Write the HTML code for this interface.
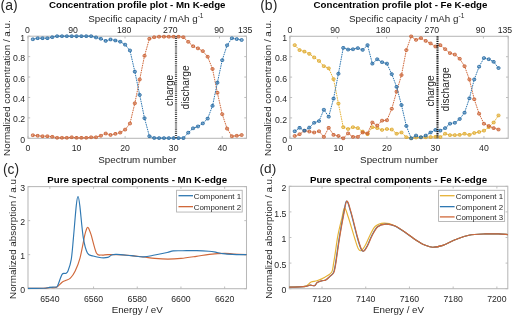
<!DOCTYPE html>
<html><head><meta charset="utf-8"><style>html,body{margin:0;padding:0;background:#fff;overflow:hidden;width:512px;height:319px}svg{display:block}</style></head>
<body>
<svg style="will-change:transform" width="512" height="319" viewBox="0 0 512 319" font-family='"Liberation Sans", sans-serif'>
<rect width="512" height="319" fill="#fff"/>
<text x="0.50" y="9.80" font-size="14" text-anchor="start" font-weight="normal" fill="#262626" >(a)</text>
<text x="260.20" y="9.80" font-size="14" text-anchor="start" font-weight="normal" fill="#262626" >(b)</text>
<text x="3.00" y="173.60" font-size="13.8" text-anchor="start" font-weight="normal" fill="#262626" >(c)</text>
<text x="259.60" y="173.40" font-size="13.6" text-anchor="start" font-weight="normal" fill="#262626" >(d)</text>
<text x="137.25" y="7.90" font-size="9.7" text-anchor="middle" font-weight="bold" fill="#000" >Concentration profile plot - Mn K-edge</text>
<text x="88.20" y="22.10" font-size="9.8" text-anchor="start" font-weight="normal" fill="#262626" >Specific capacity / mAh g<tspan dy="-4.3" font-size="6.6">-1</tspan></text>
<rect x="28.00" y="36.20" width="218.50" height="102.10" fill="none" stroke="#b8b8b8" stroke-width="1.05"/>
<text x="28.00" y="151.20" font-size="8.7" text-anchor="middle" font-weight="normal" fill="#262626" >0</text>
<text x="76.56" y="151.20" font-size="8.7" text-anchor="middle" font-weight="normal" fill="#262626" >10</text>
<text x="125.11" y="151.20" font-size="8.7" text-anchor="middle" font-weight="normal" fill="#262626" >20</text>
<text x="173.67" y="151.20" font-size="8.7" text-anchor="middle" font-weight="normal" fill="#262626" >30</text>
<text x="222.22" y="151.20" font-size="8.7" text-anchor="middle" font-weight="normal" fill="#262626" >40</text>
<text x="25.20" y="142.90" font-size="8.7" text-anchor="end" font-weight="normal" fill="#262626" >0</text>
<text x="25.20" y="122.48" font-size="8.7" text-anchor="end" font-weight="normal" fill="#262626" >0.2</text>
<text x="25.20" y="102.06" font-size="8.7" text-anchor="end" font-weight="normal" fill="#262626" >0.4</text>
<text x="25.20" y="81.64" font-size="8.7" text-anchor="end" font-weight="normal" fill="#262626" >0.6</text>
<text x="25.20" y="61.22" font-size="8.7" text-anchor="end" font-weight="normal" fill="#262626" >0.8</text>
<text x="25.20" y="40.80" font-size="8.7" text-anchor="end" font-weight="normal" fill="#262626" >1</text>
<path d="M28.00 138.30v-2.2M76.56 138.30v-2.2M125.11 138.30v-2.2M173.67 138.30v-2.2M222.22 138.30v-2.2M28.00 138.30h2.2M246.50 138.30h-2.2M28.00 117.88h2.2M246.50 117.88h-2.2M28.00 97.46h2.2M246.50 97.46h-2.2M28.00 77.04h2.2M246.50 77.04h-2.2M28.00 56.62h2.2M246.50 56.62h-2.2M28.00 36.20h2.2M246.50 36.20h-2.2M28.00 36.20v2.2M76.50 36.20v2.2M125.00 36.20v2.2M171.00 36.20v2.2M219.50 36.20v2.2M246.50 36.20v2.2" stroke="#b8b8b8" stroke-width="0.9" fill="none"/>
<text x="27.50" y="33.30" font-size="8.7" text-anchor="middle" font-weight="normal" fill="#262626" >0</text>
<text x="73.10" y="33.30" font-size="8.7" text-anchor="middle" font-weight="normal" fill="#262626" >90</text>
<text x="124.20" y="33.30" font-size="8.7" text-anchor="middle" font-weight="normal" fill="#262626" >180</text>
<text x="170.30" y="33.30" font-size="8.7" text-anchor="middle" font-weight="normal" fill="#262626" >270</text>
<text x="219.00" y="33.30" font-size="8.7" text-anchor="middle" font-weight="normal" fill="#262626" >90</text>
<text x="245.20" y="33.30" font-size="8.7" text-anchor="middle" font-weight="normal" fill="#262626" >135</text>
<text x="137.25" y="163.20" font-size="9.8" text-anchor="middle" font-weight="normal" fill="#262626" >Spectrum number</text>
<text transform="translate(10.2 88.1) rotate(-90)" font-size="9.8" text-anchor="middle" fill="#262626">Normalized concentration / a.u.</text>
<path d="M32.86 135.24 L37.71 135.75 L42.57 136.26 L47.42 136.26 L52.28 136.77 L57.13 137.79 L61.99 137.79 L66.84 137.79 L71.70 137.28 L76.56 137.79 L81.41 137.79 L86.27 137.79 L91.12 137.28 L95.98 137.28 L100.83 135.75 L105.69 133.50 L110.54 134.93 L115.40 133.81 L120.26 132.58 L125.11 129.62 L129.97 123.50 L134.82 103.28 L139.68 79.49 L144.53 55.80 L149.39 38.75 L154.24 37.22 L159.10 36.71 L163.96 36.71 L168.81 36.71 L173.67 36.71 L178.52 36.71 L183.38 37.22 L188.23 41.82 L193.09 46.21 L197.94 48.35 L202.80 51.11 L207.66 56.72 L212.51 68.97 L217.37 92.76 L222.22 114.20 L227.08 128.60 L231.93 136.26 L236.79 135.75 L241.64 135.03" stroke="#d0683a" stroke-width="1.0" fill="none" stroke-dasharray="1.6 0.8"/>
<rect x="31.36" y="133.94" width="3.0" height="2.6" rx="0.9" fill="#d0683a" fill-opacity="0.5" stroke="#c85f30" stroke-width="0.9"/>
<rect x="36.21" y="134.45" width="3.0" height="2.6" rx="0.9" fill="#d0683a" fill-opacity="0.5" stroke="#c85f30" stroke-width="0.9"/>
<rect x="41.07" y="134.96" width="3.0" height="2.6" rx="0.9" fill="#d0683a" fill-opacity="0.5" stroke="#c85f30" stroke-width="0.9"/>
<rect x="45.92" y="134.96" width="3.0" height="2.6" rx="0.9" fill="#d0683a" fill-opacity="0.5" stroke="#c85f30" stroke-width="0.9"/>
<rect x="50.78" y="135.47" width="3.0" height="2.6" rx="0.9" fill="#d0683a" fill-opacity="0.5" stroke="#c85f30" stroke-width="0.9"/>
<rect x="55.63" y="136.49" width="3.0" height="2.6" rx="0.9" fill="#d0683a" fill-opacity="0.5" stroke="#c85f30" stroke-width="0.9"/>
<rect x="60.49" y="136.49" width="3.0" height="2.6" rx="0.9" fill="#d0683a" fill-opacity="0.5" stroke="#c85f30" stroke-width="0.9"/>
<rect x="65.34" y="136.49" width="3.0" height="2.6" rx="0.9" fill="#d0683a" fill-opacity="0.5" stroke="#c85f30" stroke-width="0.9"/>
<rect x="70.20" y="135.98" width="3.0" height="2.6" rx="0.9" fill="#d0683a" fill-opacity="0.5" stroke="#c85f30" stroke-width="0.9"/>
<rect x="75.06" y="136.49" width="3.0" height="2.6" rx="0.9" fill="#d0683a" fill-opacity="0.5" stroke="#c85f30" stroke-width="0.9"/>
<rect x="79.91" y="136.49" width="3.0" height="2.6" rx="0.9" fill="#d0683a" fill-opacity="0.5" stroke="#c85f30" stroke-width="0.9"/>
<rect x="84.77" y="136.49" width="3.0" height="2.6" rx="0.9" fill="#d0683a" fill-opacity="0.5" stroke="#c85f30" stroke-width="0.9"/>
<rect x="89.62" y="135.98" width="3.0" height="2.6" rx="0.9" fill="#d0683a" fill-opacity="0.5" stroke="#c85f30" stroke-width="0.9"/>
<rect x="94.48" y="135.98" width="3.0" height="2.6" rx="0.9" fill="#d0683a" fill-opacity="0.5" stroke="#c85f30" stroke-width="0.9"/>
<rect x="99.33" y="134.45" width="3.0" height="2.6" rx="0.9" fill="#d0683a" fill-opacity="0.5" stroke="#c85f30" stroke-width="0.9"/>
<rect x="104.19" y="132.20" width="3.0" height="2.6" rx="0.9" fill="#d0683a" fill-opacity="0.5" stroke="#c85f30" stroke-width="0.9"/>
<rect x="109.04" y="133.63" width="3.0" height="2.6" rx="0.9" fill="#d0683a" fill-opacity="0.5" stroke="#c85f30" stroke-width="0.9"/>
<rect x="113.90" y="132.51" width="3.0" height="2.6" rx="0.9" fill="#d0683a" fill-opacity="0.5" stroke="#c85f30" stroke-width="0.9"/>
<rect x="118.76" y="131.28" width="3.0" height="2.6" rx="0.9" fill="#d0683a" fill-opacity="0.5" stroke="#c85f30" stroke-width="0.9"/>
<rect x="123.61" y="128.32" width="3.0" height="2.6" rx="0.9" fill="#d0683a" fill-opacity="0.5" stroke="#c85f30" stroke-width="0.9"/>
<rect x="128.47" y="122.20" width="3.0" height="2.6" rx="0.9" fill="#d0683a" fill-opacity="0.5" stroke="#c85f30" stroke-width="0.9"/>
<rect x="133.32" y="101.98" width="3.0" height="2.6" rx="0.9" fill="#d0683a" fill-opacity="0.5" stroke="#c85f30" stroke-width="0.9"/>
<rect x="138.18" y="78.19" width="3.0" height="2.6" rx="0.9" fill="#d0683a" fill-opacity="0.5" stroke="#c85f30" stroke-width="0.9"/>
<rect x="143.03" y="54.50" width="3.0" height="2.6" rx="0.9" fill="#d0683a" fill-opacity="0.5" stroke="#c85f30" stroke-width="0.9"/>
<rect x="147.89" y="37.45" width="3.0" height="2.6" rx="0.9" fill="#d0683a" fill-opacity="0.5" stroke="#c85f30" stroke-width="0.9"/>
<rect x="152.74" y="35.92" width="3.0" height="2.6" rx="0.9" fill="#d0683a" fill-opacity="0.5" stroke="#c85f30" stroke-width="0.9"/>
<rect x="157.60" y="35.41" width="3.0" height="2.6" rx="0.9" fill="#d0683a" fill-opacity="0.5" stroke="#c85f30" stroke-width="0.9"/>
<rect x="162.46" y="35.41" width="3.0" height="2.6" rx="0.9" fill="#d0683a" fill-opacity="0.5" stroke="#c85f30" stroke-width="0.9"/>
<rect x="167.31" y="35.41" width="3.0" height="2.6" rx="0.9" fill="#d0683a" fill-opacity="0.5" stroke="#c85f30" stroke-width="0.9"/>
<rect x="172.17" y="35.41" width="3.0" height="2.6" rx="0.9" fill="#d0683a" fill-opacity="0.5" stroke="#c85f30" stroke-width="0.9"/>
<rect x="177.02" y="35.41" width="3.0" height="2.6" rx="0.9" fill="#d0683a" fill-opacity="0.5" stroke="#c85f30" stroke-width="0.9"/>
<rect x="181.88" y="35.92" width="3.0" height="2.6" rx="0.9" fill="#d0683a" fill-opacity="0.5" stroke="#c85f30" stroke-width="0.9"/>
<rect x="186.73" y="40.52" width="3.0" height="2.6" rx="0.9" fill="#d0683a" fill-opacity="0.5" stroke="#c85f30" stroke-width="0.9"/>
<rect x="191.59" y="44.91" width="3.0" height="2.6" rx="0.9" fill="#d0683a" fill-opacity="0.5" stroke="#c85f30" stroke-width="0.9"/>
<rect x="196.44" y="47.05" width="3.0" height="2.6" rx="0.9" fill="#d0683a" fill-opacity="0.5" stroke="#c85f30" stroke-width="0.9"/>
<rect x="201.30" y="49.81" width="3.0" height="2.6" rx="0.9" fill="#d0683a" fill-opacity="0.5" stroke="#c85f30" stroke-width="0.9"/>
<rect x="206.16" y="55.42" width="3.0" height="2.6" rx="0.9" fill="#d0683a" fill-opacity="0.5" stroke="#c85f30" stroke-width="0.9"/>
<rect x="211.01" y="67.67" width="3.0" height="2.6" rx="0.9" fill="#d0683a" fill-opacity="0.5" stroke="#c85f30" stroke-width="0.9"/>
<rect x="215.87" y="91.46" width="3.0" height="2.6" rx="0.9" fill="#d0683a" fill-opacity="0.5" stroke="#c85f30" stroke-width="0.9"/>
<rect x="220.72" y="112.90" width="3.0" height="2.6" rx="0.9" fill="#d0683a" fill-opacity="0.5" stroke="#c85f30" stroke-width="0.9"/>
<rect x="225.58" y="127.30" width="3.0" height="2.6" rx="0.9" fill="#d0683a" fill-opacity="0.5" stroke="#c85f30" stroke-width="0.9"/>
<rect x="230.43" y="134.96" width="3.0" height="2.6" rx="0.9" fill="#d0683a" fill-opacity="0.5" stroke="#c85f30" stroke-width="0.9"/>
<rect x="235.29" y="134.45" width="3.0" height="2.6" rx="0.9" fill="#d0683a" fill-opacity="0.5" stroke="#c85f30" stroke-width="0.9"/>
<rect x="240.14" y="133.73" width="3.0" height="2.6" rx="0.9" fill="#d0683a" fill-opacity="0.5" stroke="#c85f30" stroke-width="0.9"/>
<path d="M32.86 39.26 L37.71 38.24 L42.57 38.24 L47.42 38.24 L52.28 37.22 L57.13 36.20 L61.99 36.20 L66.84 36.20 L71.70 36.20 L76.56 36.20 L81.41 36.20 L86.27 36.20 L91.12 36.20 L95.98 37.43 L100.83 38.75 L105.69 40.90 L110.54 39.47 L115.40 40.49 L120.26 41.71 L125.11 44.67 L129.97 50.49 L134.82 71.63 L139.68 94.91 L144.53 118.19 L149.39 136.26 L154.24 137.99 L159.10 138.10 L163.96 138.10 L168.81 138.10 L173.67 138.10 L178.52 138.10 L183.38 138.10 L188.23 132.68 L193.09 128.29 L197.94 126.46 L202.80 123.39 L207.66 118.59 L212.51 105.83 L217.37 82.66 L222.22 60.19 L227.08 45.29 L231.93 38.24 L236.79 39.06 L241.64 39.98" stroke="#2f78b2" stroke-width="1.0" fill="none" stroke-dasharray="1.6 0.8"/>
<rect x="31.36" y="37.96" width="3.0" height="2.6" rx="0.9" fill="#2f78b2" fill-opacity="0.5" stroke="#2468a0" stroke-width="0.9"/>
<rect x="36.21" y="36.94" width="3.0" height="2.6" rx="0.9" fill="#2f78b2" fill-opacity="0.5" stroke="#2468a0" stroke-width="0.9"/>
<rect x="41.07" y="36.94" width="3.0" height="2.6" rx="0.9" fill="#2f78b2" fill-opacity="0.5" stroke="#2468a0" stroke-width="0.9"/>
<rect x="45.92" y="36.94" width="3.0" height="2.6" rx="0.9" fill="#2f78b2" fill-opacity="0.5" stroke="#2468a0" stroke-width="0.9"/>
<rect x="50.78" y="35.92" width="3.0" height="2.6" rx="0.9" fill="#2f78b2" fill-opacity="0.5" stroke="#2468a0" stroke-width="0.9"/>
<rect x="55.63" y="34.90" width="3.0" height="2.6" rx="0.9" fill="#2f78b2" fill-opacity="0.5" stroke="#2468a0" stroke-width="0.9"/>
<rect x="60.49" y="34.90" width="3.0" height="2.6" rx="0.9" fill="#2f78b2" fill-opacity="0.5" stroke="#2468a0" stroke-width="0.9"/>
<rect x="65.34" y="34.90" width="3.0" height="2.6" rx="0.9" fill="#2f78b2" fill-opacity="0.5" stroke="#2468a0" stroke-width="0.9"/>
<rect x="70.20" y="34.90" width="3.0" height="2.6" rx="0.9" fill="#2f78b2" fill-opacity="0.5" stroke="#2468a0" stroke-width="0.9"/>
<rect x="75.06" y="34.90" width="3.0" height="2.6" rx="0.9" fill="#2f78b2" fill-opacity="0.5" stroke="#2468a0" stroke-width="0.9"/>
<rect x="79.91" y="34.90" width="3.0" height="2.6" rx="0.9" fill="#2f78b2" fill-opacity="0.5" stroke="#2468a0" stroke-width="0.9"/>
<rect x="84.77" y="34.90" width="3.0" height="2.6" rx="0.9" fill="#2f78b2" fill-opacity="0.5" stroke="#2468a0" stroke-width="0.9"/>
<rect x="89.62" y="34.90" width="3.0" height="2.6" rx="0.9" fill="#2f78b2" fill-opacity="0.5" stroke="#2468a0" stroke-width="0.9"/>
<rect x="94.48" y="36.13" width="3.0" height="2.6" rx="0.9" fill="#2f78b2" fill-opacity="0.5" stroke="#2468a0" stroke-width="0.9"/>
<rect x="99.33" y="37.45" width="3.0" height="2.6" rx="0.9" fill="#2f78b2" fill-opacity="0.5" stroke="#2468a0" stroke-width="0.9"/>
<rect x="104.19" y="39.60" width="3.0" height="2.6" rx="0.9" fill="#2f78b2" fill-opacity="0.5" stroke="#2468a0" stroke-width="0.9"/>
<rect x="109.04" y="38.17" width="3.0" height="2.6" rx="0.9" fill="#2f78b2" fill-opacity="0.5" stroke="#2468a0" stroke-width="0.9"/>
<rect x="113.90" y="39.19" width="3.0" height="2.6" rx="0.9" fill="#2f78b2" fill-opacity="0.5" stroke="#2468a0" stroke-width="0.9"/>
<rect x="118.76" y="40.41" width="3.0" height="2.6" rx="0.9" fill="#2f78b2" fill-opacity="0.5" stroke="#2468a0" stroke-width="0.9"/>
<rect x="123.61" y="43.37" width="3.0" height="2.6" rx="0.9" fill="#2f78b2" fill-opacity="0.5" stroke="#2468a0" stroke-width="0.9"/>
<rect x="128.47" y="49.19" width="3.0" height="2.6" rx="0.9" fill="#2f78b2" fill-opacity="0.5" stroke="#2468a0" stroke-width="0.9"/>
<rect x="133.32" y="70.33" width="3.0" height="2.6" rx="0.9" fill="#2f78b2" fill-opacity="0.5" stroke="#2468a0" stroke-width="0.9"/>
<rect x="138.18" y="93.61" width="3.0" height="2.6" rx="0.9" fill="#2f78b2" fill-opacity="0.5" stroke="#2468a0" stroke-width="0.9"/>
<rect x="143.03" y="116.89" width="3.0" height="2.6" rx="0.9" fill="#2f78b2" fill-opacity="0.5" stroke="#2468a0" stroke-width="0.9"/>
<rect x="147.89" y="134.96" width="3.0" height="2.6" rx="0.9" fill="#2f78b2" fill-opacity="0.5" stroke="#2468a0" stroke-width="0.9"/>
<rect x="152.74" y="136.69" width="3.0" height="2.6" rx="0.9" fill="#2f78b2" fill-opacity="0.5" stroke="#2468a0" stroke-width="0.9"/>
<rect x="157.60" y="136.80" width="3.0" height="2.6" rx="0.9" fill="#2f78b2" fill-opacity="0.5" stroke="#2468a0" stroke-width="0.9"/>
<rect x="162.46" y="136.80" width="3.0" height="2.6" rx="0.9" fill="#2f78b2" fill-opacity="0.5" stroke="#2468a0" stroke-width="0.9"/>
<rect x="167.31" y="136.80" width="3.0" height="2.6" rx="0.9" fill="#2f78b2" fill-opacity="0.5" stroke="#2468a0" stroke-width="0.9"/>
<rect x="172.17" y="136.80" width="3.0" height="2.6" rx="0.9" fill="#2f78b2" fill-opacity="0.5" stroke="#2468a0" stroke-width="0.9"/>
<rect x="177.02" y="136.80" width="3.0" height="2.6" rx="0.9" fill="#2f78b2" fill-opacity="0.5" stroke="#2468a0" stroke-width="0.9"/>
<rect x="181.88" y="136.80" width="3.0" height="2.6" rx="0.9" fill="#2f78b2" fill-opacity="0.5" stroke="#2468a0" stroke-width="0.9"/>
<rect x="186.73" y="131.38" width="3.0" height="2.6" rx="0.9" fill="#2f78b2" fill-opacity="0.5" stroke="#2468a0" stroke-width="0.9"/>
<rect x="191.59" y="126.99" width="3.0" height="2.6" rx="0.9" fill="#2f78b2" fill-opacity="0.5" stroke="#2468a0" stroke-width="0.9"/>
<rect x="196.44" y="125.16" width="3.0" height="2.6" rx="0.9" fill="#2f78b2" fill-opacity="0.5" stroke="#2468a0" stroke-width="0.9"/>
<rect x="201.30" y="122.09" width="3.0" height="2.6" rx="0.9" fill="#2f78b2" fill-opacity="0.5" stroke="#2468a0" stroke-width="0.9"/>
<rect x="206.16" y="117.29" width="3.0" height="2.6" rx="0.9" fill="#2f78b2" fill-opacity="0.5" stroke="#2468a0" stroke-width="0.9"/>
<rect x="211.01" y="104.53" width="3.0" height="2.6" rx="0.9" fill="#2f78b2" fill-opacity="0.5" stroke="#2468a0" stroke-width="0.9"/>
<rect x="215.87" y="81.36" width="3.0" height="2.6" rx="0.9" fill="#2f78b2" fill-opacity="0.5" stroke="#2468a0" stroke-width="0.9"/>
<rect x="220.72" y="58.89" width="3.0" height="2.6" rx="0.9" fill="#2f78b2" fill-opacity="0.5" stroke="#2468a0" stroke-width="0.9"/>
<rect x="225.58" y="43.99" width="3.0" height="2.6" rx="0.9" fill="#2f78b2" fill-opacity="0.5" stroke="#2468a0" stroke-width="0.9"/>
<rect x="230.43" y="36.94" width="3.0" height="2.6" rx="0.9" fill="#2f78b2" fill-opacity="0.5" stroke="#2468a0" stroke-width="0.9"/>
<rect x="235.29" y="37.76" width="3.0" height="2.6" rx="0.9" fill="#2f78b2" fill-opacity="0.5" stroke="#2468a0" stroke-width="0.9"/>
<rect x="240.14" y="38.68" width="3.0" height="2.6" rx="0.9" fill="#2f78b2" fill-opacity="0.5" stroke="#2468a0" stroke-width="0.9"/>
<path d="M176.00 36.20V138.30" stroke="#4a4a4a" stroke-width="2.2" stroke-dasharray="1 0.9"/>
<text transform="translate(173.4 90.3) rotate(-90)" font-size="10.2" text-anchor="middle" fill="#262626">charge</text>
<text transform="translate(188.9 87.4) rotate(-90)" font-size="10.2" text-anchor="middle" fill="#262626">discharge</text>
<text x="400.50" y="7.90" font-size="9.7" text-anchor="middle" font-weight="bold" fill="#000" >Concentration profile plot - Fe K-edge</text>
<text x="349.00" y="22.10" font-size="9.8" text-anchor="start" font-weight="normal" fill="#262626" >Specific capacity / mAh g<tspan dy="-4.3" font-size="6.6">-1</tspan></text>
<rect x="289.90" y="36.30" width="218.30" height="102.00" fill="none" stroke="#b8b8b8" stroke-width="1.05"/>
<text x="289.90" y="151.20" font-size="8.7" text-anchor="middle" font-weight="normal" fill="#262626" >0</text>
<text x="338.41" y="151.20" font-size="8.7" text-anchor="middle" font-weight="normal" fill="#262626" >10</text>
<text x="386.92" y="151.20" font-size="8.7" text-anchor="middle" font-weight="normal" fill="#262626" >20</text>
<text x="435.43" y="151.20" font-size="8.7" text-anchor="middle" font-weight="normal" fill="#262626" >30</text>
<text x="483.94" y="151.20" font-size="8.7" text-anchor="middle" font-weight="normal" fill="#262626" >40</text>
<text x="287.10" y="142.90" font-size="8.7" text-anchor="end" font-weight="normal" fill="#262626" >0</text>
<text x="287.10" y="122.50" font-size="8.7" text-anchor="end" font-weight="normal" fill="#262626" >0.2</text>
<text x="287.10" y="102.10" font-size="8.7" text-anchor="end" font-weight="normal" fill="#262626" >0.4</text>
<text x="287.10" y="81.70" font-size="8.7" text-anchor="end" font-weight="normal" fill="#262626" >0.6</text>
<text x="287.10" y="61.30" font-size="8.7" text-anchor="end" font-weight="normal" fill="#262626" >0.8</text>
<text x="287.10" y="40.90" font-size="8.7" text-anchor="end" font-weight="normal" fill="#262626" >1</text>
<path d="M289.90 138.30v-2.2M338.41 138.30v-2.2M386.92 138.30v-2.2M435.43 138.30v-2.2M483.94 138.30v-2.2M289.90 138.30h2.2M508.20 138.30h-2.2M289.90 117.90h2.2M508.20 117.90h-2.2M289.90 97.50h2.2M508.20 97.50h-2.2M289.90 77.10h2.2M508.20 77.10h-2.2M289.90 56.70h2.2M508.20 56.70h-2.2M289.90 36.30h2.2M508.20 36.30h-2.2M289.90 36.30v2.2M337.40 36.30v2.2M386.60 36.30v2.2M437.90 36.30v2.2M483.40 36.30v2.2M508.20 36.30v2.2" stroke="#b8b8b8" stroke-width="0.9" fill="none"/>
<text x="289.80" y="33.30" font-size="8.7" text-anchor="middle" font-weight="normal" fill="#262626" >0</text>
<text x="335.10" y="33.30" font-size="8.7" text-anchor="middle" font-weight="normal" fill="#262626" >90</text>
<text x="383.10" y="33.30" font-size="8.7" text-anchor="middle" font-weight="normal" fill="#262626" >180</text>
<text x="431.80" y="33.30" font-size="8.7" text-anchor="middle" font-weight="normal" fill="#262626" >270</text>
<text x="480.60" y="33.30" font-size="8.7" text-anchor="middle" font-weight="normal" fill="#262626" >90</text>
<text x="504.90" y="33.30" font-size="8.7" text-anchor="middle" font-weight="normal" fill="#262626" >135</text>
<text x="399.05" y="163.20" font-size="9.8" text-anchor="middle" font-weight="normal" fill="#262626" >Spectrum number</text>
<text transform="translate(270.6 88.1) rotate(-90)" font-size="9.8" text-anchor="middle" fill="#262626">Normalized concentration / a.u.</text>
<path d="M294.75 45.17 L299.60 50.07 L304.45 51.60 L309.30 53.84 L314.16 57.41 L319.01 60.98 L323.86 66.19 L328.71 68.33 L333.56 79.14 L338.41 103.52 L343.26 127.18 L348.11 129.02 L352.96 127.18 L357.82 128.10 L362.67 131.57 L367.52 134.22 L372.37 127.18 L377.22 128.10 L382.07 129.94 L386.92 129.02 L391.77 129.53 L396.62 133.71 L401.48 132.49 L406.33 137.18 L411.18 138.30 L416.03 137.48 L420.88 137.48 L425.73 137.28 L430.58 137.08 L435.43 136.87 L440.28 137.08 L445.14 133.71 L449.99 135.14 L454.84 135.14 L459.69 134.83 L464.54 133.71 L469.39 134.83 L474.24 133.00 L479.09 131.98 L483.94 130.65 L488.80 127.18 L493.65 122.49 L498.50 115.45" stroke="#e6b235" stroke-width="1.0" fill="none" stroke-dasharray="1.6 0.8"/>
<rect x="293.25" y="43.87" width="3.0" height="2.6" rx="0.9" fill="#e6b235" fill-opacity="0.5" stroke="#dca72a" stroke-width="0.9"/>
<rect x="298.10" y="48.77" width="3.0" height="2.6" rx="0.9" fill="#e6b235" fill-opacity="0.5" stroke="#dca72a" stroke-width="0.9"/>
<rect x="302.95" y="50.30" width="3.0" height="2.6" rx="0.9" fill="#e6b235" fill-opacity="0.5" stroke="#dca72a" stroke-width="0.9"/>
<rect x="307.80" y="52.54" width="3.0" height="2.6" rx="0.9" fill="#e6b235" fill-opacity="0.5" stroke="#dca72a" stroke-width="0.9"/>
<rect x="312.66" y="56.11" width="3.0" height="2.6" rx="0.9" fill="#e6b235" fill-opacity="0.5" stroke="#dca72a" stroke-width="0.9"/>
<rect x="317.51" y="59.68" width="3.0" height="2.6" rx="0.9" fill="#e6b235" fill-opacity="0.5" stroke="#dca72a" stroke-width="0.9"/>
<rect x="322.36" y="64.89" width="3.0" height="2.6" rx="0.9" fill="#e6b235" fill-opacity="0.5" stroke="#dca72a" stroke-width="0.9"/>
<rect x="327.21" y="67.03" width="3.0" height="2.6" rx="0.9" fill="#e6b235" fill-opacity="0.5" stroke="#dca72a" stroke-width="0.9"/>
<rect x="332.06" y="77.84" width="3.0" height="2.6" rx="0.9" fill="#e6b235" fill-opacity="0.5" stroke="#dca72a" stroke-width="0.9"/>
<rect x="336.91" y="102.22" width="3.0" height="2.6" rx="0.9" fill="#e6b235" fill-opacity="0.5" stroke="#dca72a" stroke-width="0.9"/>
<rect x="341.76" y="125.88" width="3.0" height="2.6" rx="0.9" fill="#e6b235" fill-opacity="0.5" stroke="#dca72a" stroke-width="0.9"/>
<rect x="346.61" y="127.72" width="3.0" height="2.6" rx="0.9" fill="#e6b235" fill-opacity="0.5" stroke="#dca72a" stroke-width="0.9"/>
<rect x="351.46" y="125.88" width="3.0" height="2.6" rx="0.9" fill="#e6b235" fill-opacity="0.5" stroke="#dca72a" stroke-width="0.9"/>
<rect x="356.32" y="126.80" width="3.0" height="2.6" rx="0.9" fill="#e6b235" fill-opacity="0.5" stroke="#dca72a" stroke-width="0.9"/>
<rect x="361.17" y="130.27" width="3.0" height="2.6" rx="0.9" fill="#e6b235" fill-opacity="0.5" stroke="#dca72a" stroke-width="0.9"/>
<rect x="366.02" y="132.92" width="3.0" height="2.6" rx="0.9" fill="#e6b235" fill-opacity="0.5" stroke="#dca72a" stroke-width="0.9"/>
<rect x="370.87" y="125.88" width="3.0" height="2.6" rx="0.9" fill="#e6b235" fill-opacity="0.5" stroke="#dca72a" stroke-width="0.9"/>
<rect x="375.72" y="126.80" width="3.0" height="2.6" rx="0.9" fill="#e6b235" fill-opacity="0.5" stroke="#dca72a" stroke-width="0.9"/>
<rect x="380.57" y="128.64" width="3.0" height="2.6" rx="0.9" fill="#e6b235" fill-opacity="0.5" stroke="#dca72a" stroke-width="0.9"/>
<rect x="385.42" y="127.72" width="3.0" height="2.6" rx="0.9" fill="#e6b235" fill-opacity="0.5" stroke="#dca72a" stroke-width="0.9"/>
<rect x="390.27" y="128.23" width="3.0" height="2.6" rx="0.9" fill="#e6b235" fill-opacity="0.5" stroke="#dca72a" stroke-width="0.9"/>
<rect x="395.12" y="132.41" width="3.0" height="2.6" rx="0.9" fill="#e6b235" fill-opacity="0.5" stroke="#dca72a" stroke-width="0.9"/>
<rect x="399.98" y="131.19" width="3.0" height="2.6" rx="0.9" fill="#e6b235" fill-opacity="0.5" stroke="#dca72a" stroke-width="0.9"/>
<rect x="404.83" y="135.88" width="3.0" height="2.6" rx="0.9" fill="#e6b235" fill-opacity="0.5" stroke="#dca72a" stroke-width="0.9"/>
<rect x="409.68" y="137.00" width="3.0" height="2.6" rx="0.9" fill="#e6b235" fill-opacity="0.5" stroke="#dca72a" stroke-width="0.9"/>
<rect x="414.53" y="136.18" width="3.0" height="2.6" rx="0.9" fill="#e6b235" fill-opacity="0.5" stroke="#dca72a" stroke-width="0.9"/>
<rect x="419.38" y="136.18" width="3.0" height="2.6" rx="0.9" fill="#e6b235" fill-opacity="0.5" stroke="#dca72a" stroke-width="0.9"/>
<rect x="424.23" y="135.98" width="3.0" height="2.6" rx="0.9" fill="#e6b235" fill-opacity="0.5" stroke="#dca72a" stroke-width="0.9"/>
<rect x="429.08" y="135.78" width="3.0" height="2.6" rx="0.9" fill="#e6b235" fill-opacity="0.5" stroke="#dca72a" stroke-width="0.9"/>
<rect x="433.93" y="135.57" width="3.0" height="2.6" rx="0.9" fill="#e6b235" fill-opacity="0.5" stroke="#dca72a" stroke-width="0.9"/>
<rect x="438.78" y="135.78" width="3.0" height="2.6" rx="0.9" fill="#e6b235" fill-opacity="0.5" stroke="#dca72a" stroke-width="0.9"/>
<rect x="443.64" y="132.41" width="3.0" height="2.6" rx="0.9" fill="#e6b235" fill-opacity="0.5" stroke="#dca72a" stroke-width="0.9"/>
<rect x="448.49" y="133.84" width="3.0" height="2.6" rx="0.9" fill="#e6b235" fill-opacity="0.5" stroke="#dca72a" stroke-width="0.9"/>
<rect x="453.34" y="133.84" width="3.0" height="2.6" rx="0.9" fill="#e6b235" fill-opacity="0.5" stroke="#dca72a" stroke-width="0.9"/>
<rect x="458.19" y="133.53" width="3.0" height="2.6" rx="0.9" fill="#e6b235" fill-opacity="0.5" stroke="#dca72a" stroke-width="0.9"/>
<rect x="463.04" y="132.41" width="3.0" height="2.6" rx="0.9" fill="#e6b235" fill-opacity="0.5" stroke="#dca72a" stroke-width="0.9"/>
<rect x="467.89" y="133.53" width="3.0" height="2.6" rx="0.9" fill="#e6b235" fill-opacity="0.5" stroke="#dca72a" stroke-width="0.9"/>
<rect x="472.74" y="131.70" width="3.0" height="2.6" rx="0.9" fill="#e6b235" fill-opacity="0.5" stroke="#dca72a" stroke-width="0.9"/>
<rect x="477.59" y="130.68" width="3.0" height="2.6" rx="0.9" fill="#e6b235" fill-opacity="0.5" stroke="#dca72a" stroke-width="0.9"/>
<rect x="482.44" y="129.35" width="3.0" height="2.6" rx="0.9" fill="#e6b235" fill-opacity="0.5" stroke="#dca72a" stroke-width="0.9"/>
<rect x="487.30" y="125.88" width="3.0" height="2.6" rx="0.9" fill="#e6b235" fill-opacity="0.5" stroke="#dca72a" stroke-width="0.9"/>
<rect x="492.15" y="121.19" width="3.0" height="2.6" rx="0.9" fill="#e6b235" fill-opacity="0.5" stroke="#dca72a" stroke-width="0.9"/>
<rect x="497.00" y="114.15" width="3.0" height="2.6" rx="0.9" fill="#e6b235" fill-opacity="0.5" stroke="#dca72a" stroke-width="0.9"/>
<path d="M294.75 135.95 L299.60 134.22 L304.45 130.65 L309.30 131.57 L314.16 132.49 L319.01 131.26 L323.86 136.87 L328.71 127.79 L333.56 134.83 L338.41 135.95 L343.26 138.30 L348.11 133.40 L352.96 136.87 L357.82 136.87 L362.67 132.49 L367.52 133.40 L372.37 122.49 L377.22 125.55 L382.07 120.65 L386.92 120.25 L391.77 108.82 L396.62 91.58 L401.48 75.06 L406.33 50.07 L411.18 36.40 L416.03 39.87 L420.88 38.14 L425.73 40.89 L430.58 43.44 L435.43 46.50 L440.28 45.17 L445.14 49.15 L449.99 53.13 L454.84 54.56 L459.69 58.74 L464.54 66.19 L469.39 79.45 L474.24 99.23 L479.09 113.72 L483.94 123.71 L488.80 125.96 L493.65 128.10 L498.50 129.53" stroke="#d0683a" stroke-width="1.0" fill="none" stroke-dasharray="1.6 0.8"/>
<rect x="293.25" y="134.65" width="3.0" height="2.6" rx="0.9" fill="#d0683a" fill-opacity="0.5" stroke="#c85f30" stroke-width="0.9"/>
<rect x="298.10" y="132.92" width="3.0" height="2.6" rx="0.9" fill="#d0683a" fill-opacity="0.5" stroke="#c85f30" stroke-width="0.9"/>
<rect x="302.95" y="129.35" width="3.0" height="2.6" rx="0.9" fill="#d0683a" fill-opacity="0.5" stroke="#c85f30" stroke-width="0.9"/>
<rect x="307.80" y="130.27" width="3.0" height="2.6" rx="0.9" fill="#d0683a" fill-opacity="0.5" stroke="#c85f30" stroke-width="0.9"/>
<rect x="312.66" y="131.19" width="3.0" height="2.6" rx="0.9" fill="#d0683a" fill-opacity="0.5" stroke="#c85f30" stroke-width="0.9"/>
<rect x="317.51" y="129.96" width="3.0" height="2.6" rx="0.9" fill="#d0683a" fill-opacity="0.5" stroke="#c85f30" stroke-width="0.9"/>
<rect x="322.36" y="135.57" width="3.0" height="2.6" rx="0.9" fill="#d0683a" fill-opacity="0.5" stroke="#c85f30" stroke-width="0.9"/>
<rect x="327.21" y="126.49" width="3.0" height="2.6" rx="0.9" fill="#d0683a" fill-opacity="0.5" stroke="#c85f30" stroke-width="0.9"/>
<rect x="332.06" y="133.53" width="3.0" height="2.6" rx="0.9" fill="#d0683a" fill-opacity="0.5" stroke="#c85f30" stroke-width="0.9"/>
<rect x="336.91" y="134.65" width="3.0" height="2.6" rx="0.9" fill="#d0683a" fill-opacity="0.5" stroke="#c85f30" stroke-width="0.9"/>
<rect x="341.76" y="137.00" width="3.0" height="2.6" rx="0.9" fill="#d0683a" fill-opacity="0.5" stroke="#c85f30" stroke-width="0.9"/>
<rect x="346.61" y="132.10" width="3.0" height="2.6" rx="0.9" fill="#d0683a" fill-opacity="0.5" stroke="#c85f30" stroke-width="0.9"/>
<rect x="351.46" y="135.57" width="3.0" height="2.6" rx="0.9" fill="#d0683a" fill-opacity="0.5" stroke="#c85f30" stroke-width="0.9"/>
<rect x="356.32" y="135.57" width="3.0" height="2.6" rx="0.9" fill="#d0683a" fill-opacity="0.5" stroke="#c85f30" stroke-width="0.9"/>
<rect x="361.17" y="131.19" width="3.0" height="2.6" rx="0.9" fill="#d0683a" fill-opacity="0.5" stroke="#c85f30" stroke-width="0.9"/>
<rect x="366.02" y="132.10" width="3.0" height="2.6" rx="0.9" fill="#d0683a" fill-opacity="0.5" stroke="#c85f30" stroke-width="0.9"/>
<rect x="370.87" y="121.19" width="3.0" height="2.6" rx="0.9" fill="#d0683a" fill-opacity="0.5" stroke="#c85f30" stroke-width="0.9"/>
<rect x="375.72" y="124.25" width="3.0" height="2.6" rx="0.9" fill="#d0683a" fill-opacity="0.5" stroke="#c85f30" stroke-width="0.9"/>
<rect x="380.57" y="119.35" width="3.0" height="2.6" rx="0.9" fill="#d0683a" fill-opacity="0.5" stroke="#c85f30" stroke-width="0.9"/>
<rect x="385.42" y="118.95" width="3.0" height="2.6" rx="0.9" fill="#d0683a" fill-opacity="0.5" stroke="#c85f30" stroke-width="0.9"/>
<rect x="390.27" y="107.52" width="3.0" height="2.6" rx="0.9" fill="#d0683a" fill-opacity="0.5" stroke="#c85f30" stroke-width="0.9"/>
<rect x="395.12" y="90.28" width="3.0" height="2.6" rx="0.9" fill="#d0683a" fill-opacity="0.5" stroke="#c85f30" stroke-width="0.9"/>
<rect x="399.98" y="73.76" width="3.0" height="2.6" rx="0.9" fill="#d0683a" fill-opacity="0.5" stroke="#c85f30" stroke-width="0.9"/>
<rect x="404.83" y="48.77" width="3.0" height="2.6" rx="0.9" fill="#d0683a" fill-opacity="0.5" stroke="#c85f30" stroke-width="0.9"/>
<rect x="409.68" y="35.10" width="3.0" height="2.6" rx="0.9" fill="#d0683a" fill-opacity="0.5" stroke="#c85f30" stroke-width="0.9"/>
<rect x="414.53" y="38.57" width="3.0" height="2.6" rx="0.9" fill="#d0683a" fill-opacity="0.5" stroke="#c85f30" stroke-width="0.9"/>
<rect x="419.38" y="36.84" width="3.0" height="2.6" rx="0.9" fill="#d0683a" fill-opacity="0.5" stroke="#c85f30" stroke-width="0.9"/>
<rect x="424.23" y="39.59" width="3.0" height="2.6" rx="0.9" fill="#d0683a" fill-opacity="0.5" stroke="#c85f30" stroke-width="0.9"/>
<rect x="429.08" y="42.14" width="3.0" height="2.6" rx="0.9" fill="#d0683a" fill-opacity="0.5" stroke="#c85f30" stroke-width="0.9"/>
<rect x="433.93" y="45.20" width="3.0" height="2.6" rx="0.9" fill="#d0683a" fill-opacity="0.5" stroke="#c85f30" stroke-width="0.9"/>
<rect x="438.78" y="43.87" width="3.0" height="2.6" rx="0.9" fill="#d0683a" fill-opacity="0.5" stroke="#c85f30" stroke-width="0.9"/>
<rect x="443.64" y="47.85" width="3.0" height="2.6" rx="0.9" fill="#d0683a" fill-opacity="0.5" stroke="#c85f30" stroke-width="0.9"/>
<rect x="448.49" y="51.83" width="3.0" height="2.6" rx="0.9" fill="#d0683a" fill-opacity="0.5" stroke="#c85f30" stroke-width="0.9"/>
<rect x="453.34" y="53.26" width="3.0" height="2.6" rx="0.9" fill="#d0683a" fill-opacity="0.5" stroke="#c85f30" stroke-width="0.9"/>
<rect x="458.19" y="57.44" width="3.0" height="2.6" rx="0.9" fill="#d0683a" fill-opacity="0.5" stroke="#c85f30" stroke-width="0.9"/>
<rect x="463.04" y="64.89" width="3.0" height="2.6" rx="0.9" fill="#d0683a" fill-opacity="0.5" stroke="#c85f30" stroke-width="0.9"/>
<rect x="467.89" y="78.15" width="3.0" height="2.6" rx="0.9" fill="#d0683a" fill-opacity="0.5" stroke="#c85f30" stroke-width="0.9"/>
<rect x="472.74" y="97.93" width="3.0" height="2.6" rx="0.9" fill="#d0683a" fill-opacity="0.5" stroke="#c85f30" stroke-width="0.9"/>
<rect x="477.59" y="112.42" width="3.0" height="2.6" rx="0.9" fill="#d0683a" fill-opacity="0.5" stroke="#c85f30" stroke-width="0.9"/>
<rect x="482.44" y="122.41" width="3.0" height="2.6" rx="0.9" fill="#d0683a" fill-opacity="0.5" stroke="#c85f30" stroke-width="0.9"/>
<rect x="487.30" y="124.66" width="3.0" height="2.6" rx="0.9" fill="#d0683a" fill-opacity="0.5" stroke="#c85f30" stroke-width="0.9"/>
<rect x="492.15" y="126.80" width="3.0" height="2.6" rx="0.9" fill="#d0683a" fill-opacity="0.5" stroke="#c85f30" stroke-width="0.9"/>
<rect x="497.00" y="128.23" width="3.0" height="2.6" rx="0.9" fill="#d0683a" fill-opacity="0.5" stroke="#c85f30" stroke-width="0.9"/>
<path d="M294.75 131.26 L299.60 127.79 L304.45 130.65 L309.30 127.59 L314.16 122.80 L319.01 121.06 L323.86 109.74 L328.71 116.68 L333.56 98.62 L338.41 73.73 L343.26 47.83 L348.11 49.56 L352.96 49.25 L357.82 48.13 L362.67 49.87 L367.52 45.17 L372.37 63.64 L377.22 59.25 L382.07 62.21 L386.92 63.64 L391.77 74.14 L396.62 86.89 L401.48 105.05 L406.33 125.96 L411.18 138.30 L416.03 135.55 L420.88 137.18 L425.73 135.55 L430.58 132.49 L435.43 129.94 L440.28 130.65 L445.14 128.10 L449.99 123.71 L454.84 122.80 L459.69 119.02 L464.54 112.70 L469.39 98.32 L474.24 79.45 L479.09 66.70 L483.94 58.03 L488.80 59.25 L493.65 61.80 L498.50 68.02" stroke="#2f78b2" stroke-width="1.0" fill="none" stroke-dasharray="1.6 0.8"/>
<rect x="293.25" y="129.96" width="3.0" height="2.6" rx="0.9" fill="#2f78b2" fill-opacity="0.5" stroke="#2468a0" stroke-width="0.9"/>
<rect x="298.10" y="126.49" width="3.0" height="2.6" rx="0.9" fill="#2f78b2" fill-opacity="0.5" stroke="#2468a0" stroke-width="0.9"/>
<rect x="302.95" y="129.35" width="3.0" height="2.6" rx="0.9" fill="#2f78b2" fill-opacity="0.5" stroke="#2468a0" stroke-width="0.9"/>
<rect x="307.80" y="126.29" width="3.0" height="2.6" rx="0.9" fill="#2f78b2" fill-opacity="0.5" stroke="#2468a0" stroke-width="0.9"/>
<rect x="312.66" y="121.50" width="3.0" height="2.6" rx="0.9" fill="#2f78b2" fill-opacity="0.5" stroke="#2468a0" stroke-width="0.9"/>
<rect x="317.51" y="119.76" width="3.0" height="2.6" rx="0.9" fill="#2f78b2" fill-opacity="0.5" stroke="#2468a0" stroke-width="0.9"/>
<rect x="322.36" y="108.44" width="3.0" height="2.6" rx="0.9" fill="#2f78b2" fill-opacity="0.5" stroke="#2468a0" stroke-width="0.9"/>
<rect x="327.21" y="115.38" width="3.0" height="2.6" rx="0.9" fill="#2f78b2" fill-opacity="0.5" stroke="#2468a0" stroke-width="0.9"/>
<rect x="332.06" y="97.32" width="3.0" height="2.6" rx="0.9" fill="#2f78b2" fill-opacity="0.5" stroke="#2468a0" stroke-width="0.9"/>
<rect x="336.91" y="72.43" width="3.0" height="2.6" rx="0.9" fill="#2f78b2" fill-opacity="0.5" stroke="#2468a0" stroke-width="0.9"/>
<rect x="341.76" y="46.53" width="3.0" height="2.6" rx="0.9" fill="#2f78b2" fill-opacity="0.5" stroke="#2468a0" stroke-width="0.9"/>
<rect x="346.61" y="48.26" width="3.0" height="2.6" rx="0.9" fill="#2f78b2" fill-opacity="0.5" stroke="#2468a0" stroke-width="0.9"/>
<rect x="351.46" y="47.95" width="3.0" height="2.6" rx="0.9" fill="#2f78b2" fill-opacity="0.5" stroke="#2468a0" stroke-width="0.9"/>
<rect x="356.32" y="46.83" width="3.0" height="2.6" rx="0.9" fill="#2f78b2" fill-opacity="0.5" stroke="#2468a0" stroke-width="0.9"/>
<rect x="361.17" y="48.57" width="3.0" height="2.6" rx="0.9" fill="#2f78b2" fill-opacity="0.5" stroke="#2468a0" stroke-width="0.9"/>
<rect x="366.02" y="43.87" width="3.0" height="2.6" rx="0.9" fill="#2f78b2" fill-opacity="0.5" stroke="#2468a0" stroke-width="0.9"/>
<rect x="370.87" y="62.34" width="3.0" height="2.6" rx="0.9" fill="#2f78b2" fill-opacity="0.5" stroke="#2468a0" stroke-width="0.9"/>
<rect x="375.72" y="57.95" width="3.0" height="2.6" rx="0.9" fill="#2f78b2" fill-opacity="0.5" stroke="#2468a0" stroke-width="0.9"/>
<rect x="380.57" y="60.91" width="3.0" height="2.6" rx="0.9" fill="#2f78b2" fill-opacity="0.5" stroke="#2468a0" stroke-width="0.9"/>
<rect x="385.42" y="62.34" width="3.0" height="2.6" rx="0.9" fill="#2f78b2" fill-opacity="0.5" stroke="#2468a0" stroke-width="0.9"/>
<rect x="390.27" y="72.84" width="3.0" height="2.6" rx="0.9" fill="#2f78b2" fill-opacity="0.5" stroke="#2468a0" stroke-width="0.9"/>
<rect x="395.12" y="85.59" width="3.0" height="2.6" rx="0.9" fill="#2f78b2" fill-opacity="0.5" stroke="#2468a0" stroke-width="0.9"/>
<rect x="399.98" y="103.75" width="3.0" height="2.6" rx="0.9" fill="#2f78b2" fill-opacity="0.5" stroke="#2468a0" stroke-width="0.9"/>
<rect x="404.83" y="124.66" width="3.0" height="2.6" rx="0.9" fill="#2f78b2" fill-opacity="0.5" stroke="#2468a0" stroke-width="0.9"/>
<rect x="409.68" y="137.00" width="3.0" height="2.6" rx="0.9" fill="#2f78b2" fill-opacity="0.5" stroke="#2468a0" stroke-width="0.9"/>
<rect x="414.53" y="134.25" width="3.0" height="2.6" rx="0.9" fill="#2f78b2" fill-opacity="0.5" stroke="#2468a0" stroke-width="0.9"/>
<rect x="419.38" y="135.88" width="3.0" height="2.6" rx="0.9" fill="#2f78b2" fill-opacity="0.5" stroke="#2468a0" stroke-width="0.9"/>
<rect x="424.23" y="134.25" width="3.0" height="2.6" rx="0.9" fill="#2f78b2" fill-opacity="0.5" stroke="#2468a0" stroke-width="0.9"/>
<rect x="429.08" y="131.19" width="3.0" height="2.6" rx="0.9" fill="#2f78b2" fill-opacity="0.5" stroke="#2468a0" stroke-width="0.9"/>
<rect x="433.93" y="128.64" width="3.0" height="2.6" rx="0.9" fill="#2f78b2" fill-opacity="0.5" stroke="#2468a0" stroke-width="0.9"/>
<rect x="438.78" y="129.35" width="3.0" height="2.6" rx="0.9" fill="#2f78b2" fill-opacity="0.5" stroke="#2468a0" stroke-width="0.9"/>
<rect x="443.64" y="126.80" width="3.0" height="2.6" rx="0.9" fill="#2f78b2" fill-opacity="0.5" stroke="#2468a0" stroke-width="0.9"/>
<rect x="448.49" y="122.41" width="3.0" height="2.6" rx="0.9" fill="#2f78b2" fill-opacity="0.5" stroke="#2468a0" stroke-width="0.9"/>
<rect x="453.34" y="121.50" width="3.0" height="2.6" rx="0.9" fill="#2f78b2" fill-opacity="0.5" stroke="#2468a0" stroke-width="0.9"/>
<rect x="458.19" y="117.72" width="3.0" height="2.6" rx="0.9" fill="#2f78b2" fill-opacity="0.5" stroke="#2468a0" stroke-width="0.9"/>
<rect x="463.04" y="111.40" width="3.0" height="2.6" rx="0.9" fill="#2f78b2" fill-opacity="0.5" stroke="#2468a0" stroke-width="0.9"/>
<rect x="467.89" y="97.02" width="3.0" height="2.6" rx="0.9" fill="#2f78b2" fill-opacity="0.5" stroke="#2468a0" stroke-width="0.9"/>
<rect x="472.74" y="78.15" width="3.0" height="2.6" rx="0.9" fill="#2f78b2" fill-opacity="0.5" stroke="#2468a0" stroke-width="0.9"/>
<rect x="477.59" y="65.40" width="3.0" height="2.6" rx="0.9" fill="#2f78b2" fill-opacity="0.5" stroke="#2468a0" stroke-width="0.9"/>
<rect x="482.44" y="56.73" width="3.0" height="2.6" rx="0.9" fill="#2f78b2" fill-opacity="0.5" stroke="#2468a0" stroke-width="0.9"/>
<rect x="487.30" y="57.95" width="3.0" height="2.6" rx="0.9" fill="#2f78b2" fill-opacity="0.5" stroke="#2468a0" stroke-width="0.9"/>
<rect x="492.15" y="60.50" width="3.0" height="2.6" rx="0.9" fill="#2f78b2" fill-opacity="0.5" stroke="#2468a0" stroke-width="0.9"/>
<rect x="497.00" y="66.72" width="3.0" height="2.6" rx="0.9" fill="#2f78b2" fill-opacity="0.5" stroke="#2468a0" stroke-width="0.9"/>
<path d="M437.50 36.30V138.30" stroke="#151515" stroke-width="2.1" stroke-dasharray="1.3 0.9"/>
<text transform="translate(433.60 91.0) rotate(-90)" font-size="10.2" text-anchor="middle" fill="#262626">charge</text>
<text transform="translate(449.00 89.4) rotate(-90)" font-size="10.2" text-anchor="middle" fill="#262626">discharge</text>
<text x="137.25" y="182.70" font-size="9.7" text-anchor="middle" font-weight="bold" fill="#000" >Pure spectral components - Mn K-edge</text>
<rect x="28.00" y="186.60" width="218.50" height="102.10" fill="none" stroke="#b8b8b8" stroke-width="1.05"/>
<text x="49.85" y="301.60" font-size="8.7" text-anchor="middle" font-weight="normal" fill="#262626" >6540</text>
<text x="93.55" y="301.60" font-size="8.7" text-anchor="middle" font-weight="normal" fill="#262626" >6560</text>
<text x="137.25" y="301.60" font-size="8.7" text-anchor="middle" font-weight="normal" fill="#262626" >6580</text>
<text x="180.95" y="301.60" font-size="8.7" text-anchor="middle" font-weight="normal" fill="#262626" >6600</text>
<text x="224.65" y="301.60" font-size="8.7" text-anchor="middle" font-weight="normal" fill="#262626" >6620</text>
<text x="25.20" y="293.30" font-size="8.7" text-anchor="end" font-weight="normal" fill="#262626" >0</text>
<text x="25.20" y="259.27" font-size="8.7" text-anchor="end" font-weight="normal" fill="#262626" >1</text>
<text x="25.20" y="225.23" font-size="8.7" text-anchor="end" font-weight="normal" fill="#262626" >2</text>
<text x="25.20" y="191.20" font-size="8.7" text-anchor="end" font-weight="normal" fill="#262626" >3</text>
<path d="M49.85 288.70v-2.2M49.85 186.60v2.2M93.55 288.70v-2.2M93.55 186.60v2.2M137.25 288.70v-2.2M137.25 186.60v2.2M180.95 288.70v-2.2M180.95 186.60v2.2M224.65 288.70v-2.2M224.65 186.60v2.2M28.00 288.70h2.2M246.50 288.70h-2.2M28.00 254.67h2.2M246.50 254.67h-2.2M28.00 220.63h2.2M246.50 220.63h-2.2M28.00 186.60h2.2M246.50 186.60h-2.2" stroke="#b8b8b8" stroke-width="0.9" fill="none"/>
<text x="137.25" y="313.00" font-size="9.8" text-anchor="middle" font-weight="normal" fill="#262626" >Energy / eV</text>
<text transform="translate(16.3 237.65) rotate(-90)" font-size="9.8" text-anchor="middle" fill="#262626">Normalized absorption / a.u.</text>
<path d="M28.00 288.36 C30.55 288.35 39.65 288.43 43.30 288.29 C46.94 288.15 47.66 287.67 49.85 287.51 C52.04 287.35 54.37 288.22 56.41 287.34 C58.44 286.46 60.56 283.37 62.09 282.23 C63.62 281.10 64.20 281.21 65.58 280.53 C66.97 279.85 68.79 279.74 70.39 278.15 C71.99 276.56 73.59 274.35 75.20 271.00 C76.80 267.66 78.40 264.08 80.00 258.07 C81.61 252.06 83.68 239.86 84.81 234.93 C85.94 229.99 86.30 229.74 86.78 228.46 C87.25 227.18 87.32 227.24 87.65 227.24 C87.98 227.24 88.16 227.18 88.74 228.46 C89.33 229.74 89.87 230.84 91.15 234.93 C92.42 239.01 94.72 249.62 96.39 252.96 C98.07 256.31 99.30 254.72 101.20 255.01 C103.09 255.29 105.09 254.72 107.75 254.67 C110.41 254.61 113.22 254.50 117.15 254.67 C121.08 254.84 126.91 255.29 131.35 255.69 C135.79 256.08 139.91 256.60 143.81 257.05 C147.70 257.50 150.72 258.07 154.73 258.41 C158.74 258.75 163.47 259.09 167.84 259.09 C172.21 259.09 176.22 258.86 180.95 258.41 C185.68 257.96 191.51 257.05 196.25 256.37 C200.98 255.69 204.62 254.84 209.35 254.33 C214.09 253.82 220.64 253.36 224.65 253.31 C228.66 253.25 229.75 253.76 233.39 253.99 C237.03 254.21 244.31 254.55 246.50 254.67" stroke="#d0683a" stroke-width="1.15" fill="none" stroke-linejoin="round"/>
<path d="M28.00 288.36 C30.55 288.35 39.65 288.46 43.30 288.29 C46.94 288.12 47.85 287.55 49.85 287.34 C51.85 287.12 54.04 287.23 55.31 287.00 C56.59 286.77 56.37 288.08 57.50 285.98 C58.63 283.88 60.74 276.50 62.09 274.41 C63.43 272.31 64.60 273.95 65.58 273.38 C66.57 272.82 67.04 273.33 67.99 271.00 C68.93 268.68 70.35 264.99 71.26 259.43 C72.17 253.87 72.61 246.67 73.45 237.65 C74.29 228.63 75.52 212.18 76.29 205.32 C77.05 198.45 77.45 196.47 78.04 196.47 C78.62 196.47 78.91 198.45 79.78 205.32 C80.66 212.18 82.01 229.71 83.28 237.65 C84.56 245.59 85.79 249.90 87.43 252.96 C89.07 256.03 90.82 255.23 93.11 256.03 C95.41 256.82 98.76 257.50 101.20 257.73 C103.64 257.96 106.00 257.84 107.75 257.39 C109.50 256.94 110.23 255.52 111.69 255.01 C113.14 254.50 113.22 254.21 116.49 254.33 C119.77 254.44 126.80 255.26 131.35 255.69 C135.90 256.11 139.91 256.99 143.81 256.88 C147.70 256.77 150.83 255.74 154.73 255.01 C158.63 254.27 164.09 253.14 167.18 252.45 C170.28 251.77 170.75 251.21 173.30 250.92 C175.85 250.64 178.58 250.81 182.48 250.75 C186.38 250.70 192.28 250.50 196.68 250.58 C201.09 250.67 205.53 250.95 208.92 251.26 C212.30 251.58 214.64 252.06 217.00 252.45 C219.37 252.85 220.53 253.33 223.12 253.65 C225.71 253.96 228.62 254.16 232.52 254.33 C236.41 254.50 244.17 254.61 246.50 254.67" stroke="#2f78b2" stroke-width="1.15" fill="none" stroke-linejoin="round"/>
<rect x="176.6" y="190.25" width="65.6" height="21.8" fill="#fff" stroke="#aaa" stroke-width="0.8"/>
<path d="M178.5 195.7H193.0" stroke="#2f78b2" stroke-width="1.3"/>
<path d="M178.5 206.65H193.0" stroke="#d0683a" stroke-width="1.3"/>
<text x="193.75" y="199.30" font-size="7.9" text-anchor="start" font-weight="normal" fill="#262626" >Component 1</text>
<text x="193.75" y="210.25" font-size="7.9" text-anchor="start" font-weight="normal" fill="#262626" >Component 2</text>
<text x="398.52" y="182.70" font-size="9.7" text-anchor="middle" font-weight="bold" fill="#000" >Pure spectral components - Fe K-edge</text>
<rect x="289.25" y="186.30" width="218.55" height="102.40" fill="none" stroke="#b8b8b8" stroke-width="1.05"/>
<text x="322.03" y="301.60" font-size="8.7" text-anchor="middle" font-weight="normal" fill="#262626" >7120</text>
<text x="365.74" y="301.60" font-size="8.7" text-anchor="middle" font-weight="normal" fill="#262626" >7140</text>
<text x="409.45" y="301.60" font-size="8.7" text-anchor="middle" font-weight="normal" fill="#262626" >7160</text>
<text x="453.16" y="301.60" font-size="8.7" text-anchor="middle" font-weight="normal" fill="#262626" >7180</text>
<text x="496.87" y="301.60" font-size="8.7" text-anchor="middle" font-weight="normal" fill="#262626" >7200</text>
<text x="286.45" y="293.30" font-size="8.7" text-anchor="end" font-weight="normal" fill="#262626" >0</text>
<text x="286.45" y="267.70" font-size="8.7" text-anchor="end" font-weight="normal" fill="#262626" >0.5</text>
<text x="286.45" y="242.10" font-size="8.7" text-anchor="end" font-weight="normal" fill="#262626" >1</text>
<text x="286.45" y="216.50" font-size="8.7" text-anchor="end" font-weight="normal" fill="#262626" >1.5</text>
<text x="286.45" y="190.90" font-size="8.7" text-anchor="end" font-weight="normal" fill="#262626" >2</text>
<path d="M322.03 288.70v-2.2M322.03 186.30v2.2M365.74 288.70v-2.2M365.74 186.30v2.2M409.45 288.70v-2.2M409.45 186.30v2.2M453.16 288.70v-2.2M453.16 186.30v2.2M496.87 288.70v-2.2M496.87 186.30v2.2M289.25 288.70h2.2M507.80 288.70h-2.2M289.25 263.10h2.2M507.80 263.10h-2.2M289.25 237.50h2.2M507.80 237.50h-2.2M289.25 211.90h2.2M507.80 211.90h-2.2M289.25 186.30h2.2M507.80 186.30h-2.2" stroke="#b8b8b8" stroke-width="0.9" fill="none"/>
<text x="398.52" y="313.00" font-size="9.8" text-anchor="middle" font-weight="normal" fill="#262626" >Energy / eV</text>
<text transform="translate(272.0 237.50) rotate(-90)" font-size="9.8" text-anchor="middle" fill="#262626">Normalized absorption / a.u.</text>
<path d="M289.25 287.16 C291.03 287.08 297.19 286.82 299.96 286.65 C302.73 286.48 304.00 286.91 305.86 286.14 C307.72 285.37 309.25 282.95 311.11 282.04 C312.96 281.14 314.71 281.52 317.01 280.71 C319.30 279.90 322.43 278.58 324.87 277.18 C327.31 275.78 330.19 274.66 331.65 272.32 C333.11 269.97 333.00 266.43 333.62 263.10 C334.23 259.77 334.64 257.04 335.36 252.35 C336.09 247.65 336.86 240.83 337.99 234.94 C339.12 229.05 341.05 221.54 342.14 217.02 C343.23 212.50 343.52 207.80 344.54 207.80 C345.56 207.80 346.58 211.99 348.26 217.02 C349.93 222.05 352.92 232.72 354.60 238.01 C356.27 243.30 357.18 246.67 358.31 248.76 C359.44 250.85 360.21 251.15 361.37 250.56 C362.54 249.96 363.88 247.70 365.31 245.18 C366.73 242.66 368.22 238.61 369.89 235.45 C371.57 232.29 372.99 228.28 375.36 226.24 C377.73 224.19 380.97 223.29 384.10 223.16 C387.23 223.04 390.51 223.85 394.15 225.47 C397.80 227.09 402.71 230.72 405.96 232.89 C409.20 235.07 411.27 236.90 413.60 238.52 C415.94 240.15 418.09 241.54 419.94 242.62 C421.80 243.70 422.64 244.26 424.75 245.03 C426.86 245.79 429.60 247.17 432.62 247.23 C435.64 247.29 439.03 246.66 442.89 245.38 C446.75 244.10 451.45 241.25 455.79 239.55 C460.12 237.85 463.94 236.13 468.90 235.20 C473.85 234.26 480.59 234.13 485.51 233.92 C490.43 233.70 494.69 233.81 498.40 233.92 C502.12 234.03 506.23 234.47 507.80 234.58" stroke="#e6b235" stroke-width="1.15" fill="none" stroke-linejoin="round"/>
<path d="M289.25 287.16 C291.03 287.12 297.19 287.04 299.96 286.91 C302.73 286.78 304.15 286.69 305.86 286.40 C307.57 286.10 308.77 285.24 310.23 285.12 C311.69 284.99 313.44 286.05 314.60 285.63 C315.77 285.20 315.95 283.38 317.22 282.56 C318.50 281.74 320.83 281.14 322.25 280.71 C323.67 280.29 324.47 280.71 325.75 280.00 C327.02 279.28 328.63 277.61 329.90 276.41 C331.18 275.22 332.52 274.62 333.40 272.83 C334.27 271.04 334.53 269.07 335.15 265.66 C335.76 262.25 336.35 257.47 337.11 252.35 C337.88 247.23 338.68 241.25 339.74 234.94 C340.79 228.63 342.32 220.09 343.45 214.46 C344.58 208.83 345.31 201.57 346.51 201.15 C347.71 200.72 348.84 205.76 350.66 211.90 C352.48 218.04 355.73 231.87 357.44 238.01 C359.15 244.16 359.91 246.59 360.93 248.76 C361.95 250.94 362.50 251.58 363.56 251.07 C364.61 250.56 365.89 248.29 367.27 245.69 C368.66 243.09 370.15 238.61 371.86 235.45 C373.57 232.29 375.29 228.63 377.54 226.75 C379.80 224.87 382.53 224.32 385.41 224.19 C388.29 224.06 391.39 224.51 394.81 225.98 C398.23 227.45 402.82 230.90 405.96 232.99 C409.09 235.09 411.27 236.92 413.60 238.52 C415.94 240.13 418.09 241.54 419.94 242.62 C421.80 243.70 422.64 244.26 424.75 245.03 C426.86 245.79 429.60 247.17 432.62 247.23 C435.64 247.29 439.03 246.66 442.89 245.38 C446.75 244.10 451.45 241.25 455.79 239.55 C460.12 237.85 463.94 236.13 468.90 235.20 C473.85 234.26 480.59 234.13 485.51 233.92 C490.43 233.70 494.69 233.81 498.40 233.92 C502.12 234.03 506.23 234.47 507.80 234.58" stroke="#2f78b2" stroke-width="1.15" fill="none" stroke-linejoin="round"/>
<path d="M289.25 287.16 C291.03 287.12 297.19 287.04 299.96 286.91 C302.73 286.78 304.15 286.69 305.86 286.40 C307.57 286.10 308.77 285.24 310.23 285.12 C311.69 284.99 313.44 286.05 314.60 285.63 C315.77 285.20 315.95 283.38 317.22 282.56 C318.50 281.74 320.83 281.14 322.25 280.71 C323.67 280.29 324.47 280.71 325.75 280.00 C327.02 279.28 328.57 277.61 329.90 276.41 C331.23 275.22 332.80 274.62 333.72 272.83 C334.65 271.04 334.85 269.07 335.47 265.66 C336.09 262.25 336.68 257.47 337.44 252.35 C338.21 247.23 339.01 241.25 340.06 234.94 C341.12 228.63 342.65 220.09 343.78 214.46 C344.91 208.83 345.64 201.57 346.84 201.15 C348.04 200.72 349.17 205.76 350.99 211.90 C352.81 218.04 356.05 231.87 357.77 238.01 C359.48 244.16 360.24 246.59 361.26 248.76 C362.28 250.94 362.83 251.58 363.88 251.07 C364.94 250.56 366.22 248.29 367.60 245.69 C368.98 243.09 370.48 238.61 372.19 235.45 C373.90 232.29 375.61 228.63 377.87 226.75 C380.13 224.87 382.86 224.32 385.74 224.19 C388.62 224.06 391.71 224.51 395.14 225.98 C398.56 227.45 403.21 230.90 406.28 232.99 C409.36 235.09 411.33 236.92 413.60 238.52 C415.88 240.13 418.09 241.54 419.94 242.62 C421.80 243.70 422.64 244.26 424.75 245.03 C426.86 245.79 429.60 247.17 432.62 247.23 C435.64 247.29 439.03 246.66 442.89 245.38 C446.75 244.10 451.45 241.25 455.79 239.55 C460.12 237.85 463.94 236.13 468.90 235.20 C473.85 234.26 480.59 234.13 485.51 233.92 C490.43 233.70 494.69 233.81 498.40 233.92 C502.12 234.03 506.23 234.47 507.80 234.58" stroke="#d0683a" stroke-width="1.15" fill="none" stroke-linejoin="round"/>
<rect x="438.6" y="190.25" width="66.05" height="31.25" fill="#fff" stroke="#aaa" stroke-width="0.8"/>
<path d="M439.9 195.7H454.6" stroke="#e6b235" stroke-width="1.3"/>
<path d="M439.9 206.65H454.6" stroke="#2f78b2" stroke-width="1.3"/>
<path d="M439.9 216.9H454.6" stroke="#d0683a" stroke-width="1.3"/>
<text x="455.75" y="199.30" font-size="7.9" text-anchor="start" font-weight="normal" fill="#262626" >Component 1</text>
<text x="455.75" y="210.25" font-size="7.9" text-anchor="start" font-weight="normal" fill="#262626" >Component 2</text>
<text x="455.75" y="219.90" font-size="7.9" text-anchor="start" font-weight="normal" fill="#262626" >Component 3</text>
</svg>
</body></html>
